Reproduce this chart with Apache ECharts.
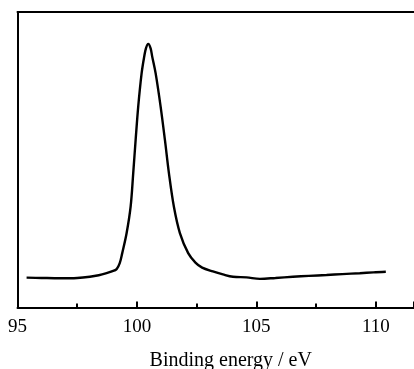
<!DOCTYPE html>
<html>
<head>
<meta charset="utf-8">
<script src="https://cdn.jsdelivr.net/npm/echarts@6/dist/echarts.min.js"></script>
<style>html,body{margin:0;padding:0;background:#fff}#c{width:414px;height:369px}</style>
</head>
<body>
<div id="c"></div>
<script>
var energy = [95.38, 96.0, 96.78, 97.5, 98.03, 98.4, 98.73, 98.95, 99.15, 99.28, 99.385, 99.569, 99.736, 99.845, 99.946, 100.054, 100.197, 100.305, 100.377, 100.473, 100.573, 100.640, 100.782, 100.992, 101.172, 101.339, 101.548, 101.799, 102.146, 102.45, 102.73, 103.18, 103.6, 104.02, 104.59, 105.15, 105.8, 106.53, 107.2, 107.94, 108.6, 109.33, 109.9, 110.42];
var intensity = [101, 100, 99, 100, 104, 109, 116, 122, 130, 150, 184, 252, 341, 455, 567, 680, 793, 849, 877, 892, 877, 849, 793, 680, 567, 455, 341, 252, 184, 152, 135, 122, 112, 104, 102, 97, 100, 104, 107, 110, 113, 116, 119, 121];
var xTickLabels = ['95', '100', '105', '110'];
var axisTitle = 'Binding energy / eV';

var chart = echarts.init(document.getElementById('c'), null, {renderer: 'canvas'});
var fontFam = '"Liberation Serif", "Times New Roman", serif';
chart.setOption({
  animation: false,
  backgroundColor: '#fff',
  grid: {left: 17.5, right: 0, top: 12, bottom: 61.5, containLabel: false, outerBoundsMode: 'none'},
  xAxis: [{
    type: 'value', min: 95, max: 111.6, interval: 5, position: 'bottom',
    axisLine: {show: true, lineStyle: {color: '#000', width: 2}},
    axisTick: {show: true, inside: true, length: 6, lineStyle: {color: '#000', width: 2}},
    minorTick: {show: true, splitNumber: 2, length: 4, lineStyle: {color: '#000', width: 2}},
    splitLine: {show: false},
    axisLabel: {
      color: '#000', fontFamily: fontFam, fontSize: 19, margin: 10, showMaxLabel: false,
      formatter: function (v) { var s = String(Math.round(v)); return (Math.abs(v - Math.round(v)) < 1e-6 && xTickLabels.indexOf(s) >= 0) ? s : ''; }
    },
    name: axisTitle, nameLocation: 'middle', nameGap: 43,
    nameTextStyle: {color: '#000', fontFamily: fontFam, fontSize: 20, padding: [0, 0, 0, 30]}
  }, {
    type: 'value', min: 95, max: 111.6, position: 'top',
    axisLine: {show: true, lineStyle: {color: '#000', width: 2}},
    axisTick: {show: false}, axisLabel: {show: false}, splitLine: {show: false}
  }],
  yAxis: {
    type: 'value', min: 0, max: 1000,
    axisLine: {show: true, lineStyle: {color: '#000', width: 2}},
    axisTick: {show: false}, axisLabel: {show: false}, splitLine: {show: false}
  },
  series: [{
    type: 'line', xAxisIndex: 0,
    data: energy.map(function (e, i) { return [e, intensity[i]]; }),
    showSymbol: false, smooth: 0.35,
    lineStyle: {color: '#000', width: 2.4}
  }]
});
</script>
</body>
</html>
